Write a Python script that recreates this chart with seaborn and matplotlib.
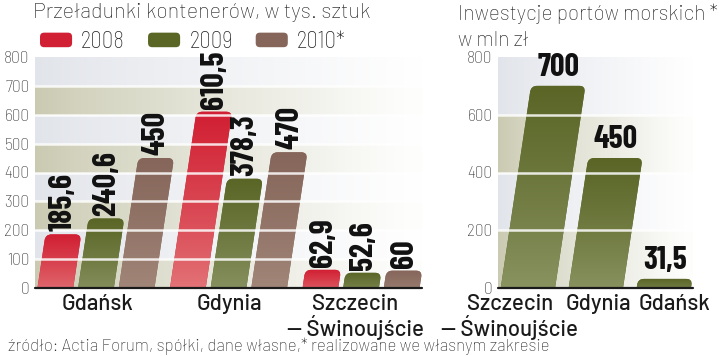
import numpy as np
import pandas as pd
import matplotlib
matplotlib.use("Agg")
import matplotlib.pyplot as plt
import seaborn as sns
from matplotlib.patches import FancyBboxPatch, Patch
from matplotlib.transforms import Affine2D, ScaledTranslation
from matplotlib.legend_handler import HandlerPatch
from matplotlib.colors import to_rgb, to_hex

# ---------------- data ----------------
ports = ["Gdańsk", "Gdynia", "Szczecin\n— Świnoujście"]
years = ["2008", "2009", "2010*"]
v2008 = [185.6, 610.5, 62.9]
v2009 = [240.6, 378.3, 52.6]
v2010 = [450, 470, 60]
left_ticks = [0, 100, 200, 300, 400, 500, 600, 700, 800]

inv_ports = ["Szczecin\n— Świnoujście", "Gdynia", "Gdańsk"]
inv_values = [700, 450, 31.5]
right_ticks = [0, 200, 400, 600, 800]

title_left = "Przeładunki kontenerów, w tys. sztuk"
title_right = "Inwestycje portów morskich *\nw mln zł"
source = "źródło: Actia Forum, spółki, dane własne,* realizowane we własnym zakresie"

# ---------------- style ----------------
top_cols = {"2008": "#d11f33", "2009": "#5a6626", "2010*": "#86665a"}
bot_cols = {"2008": "#e47a7c", "2009": "#8c9667", "2010*": "#a48a7c"}
inv_top, inv_bot = "#5a6526", "#8d9765"
GREY, KHAKI = "#e1e4ea", "#cacab2"

sns.set_style("white")
SEMI = ["Barlow Semi Condensed", "Roboto", "DejaVu Sans"]
WIDE = ["Barlow", "Roboto", "DejaVu Sans"]
NARROW = ["Barlow Condensed", "Roboto", "DejaVu Sans"]

df = pd.DataFrame({
    "port": ports * 3,
    "year": np.repeat(years, 3),
    "value": v2008 + v2009 + v2010,
})
df_inv = pd.DataFrame({"port": inv_ports, "value": inv_values})

fig = plt.figure(figsize=(7.2, 3.56), dpi=100)
fig.patch.set_facecolor("white")
axL = fig.add_axes([35 / 720, 1 - 288 / 356, 387 / 720, 231 / 356])
axR = fig.add_axes([498 / 720, 1 - 288 / 356, 195 / 720, 231 / 356])

sns.barplot(data=df, x="port", y="value", hue="year", hue_order=years,
            palette=top_cols, width=0.92, gap=0.12, saturation=1,
            legend=False, ax=axL)
sns.barplot(data=df_inv, x="port", y="value", color=inv_top, width=0.8,
            saturation=1, ax=axR)

XL = (-0.46, 2.46)
XR = (-0.44, 2.43)
axL.set_xlim(*XL)
axR.set_xlim(*XR)
for ax in (axL, axR):
    ax.set_ylim(0, 800)


def background(ax, step, nb):
    x0, x1 = ax.get_xlim()
    cols = 300
    img = np.ones((nb, cols, 4))
    t = np.linspace(0, 1, cols)
    alpha = np.clip(1 - t ** 0.85, 0.03, 1)
    for i in range(nb):
        c = GREY if (nb - 1 - i) % 2 == 0 else KHAKI
        img[i, :, :3] = to_rgb(c)
        img[i, :, 3] = alpha
    ax.imshow(img, extent=(x0, x1, 0, 800), origin="lower", aspect="auto",
              interpolation="nearest", zorder=0)
    for y in np.arange(step, 800, step):
        ax.axhline(y, color="white", lw=1.8, zorder=4, alpha=0.85)


def restyle_bars(ax, top_to_bot, label_rot, off_px):
    p0 = ax.transData.transform((0, 0))
    p1 = ax.transData.transform((1, 1))
    ppx, ppy = p1[0] - p0[0], p1[1] - p0[1]
    k = 0.15 * ppy / ppx
    aspect = ppx / ppy
    skew = Affine2D(np.array([[1, k, 0], [0, 1, 0], [0, 0, 1]]))
    r = 6 / ppx
    bars = [p for p in ax.patches]
    for p in bars:
        x, w, h = p.get_x(), p.get_width(), p.get_height()
        fc = to_hex(p.get_facecolor())
        p.remove()
        patch = FancyBboxPatch((x, -30), w, h + 30,
                               boxstyle=f"round,pad=0,rounding_size={r}",
                               mutation_aspect=aspect, facecolor=fc,
                               edgecolor="none", zorder=2,
                               transform=skew + ax.transData)
        ax.add_patch(patch)
        bot = np.array(to_rgb(top_to_bot[fc]))
        top = np.array(to_rgb(fc))
        tt = np.linspace(0, 1, 64)[:, None]
        grad = bot * (1 - tt ** 0.8) + top * tt ** 0.8
        im = ax.imshow(grad[:, None, :], extent=(x, x + w + k * h + 0.01, -30, h),
                       origin="lower", aspect="auto", interpolation="bilinear",
                       zorder=2.5)
        im.set_clip_path(patch)
        xc = x + w / 2 + k * h
        lab = f"{h:g}".replace(".", ",")
        ax.text(xc, h + off_px / ppy, lab, rotation=label_rot, ha="center",
                va="bottom", fontsize=23, fontweight="bold", family=NARROW,
                color="#111111", zorder=6)


background(axL, 100, 8)
background(axR, 200, 4)
axL.set_xlim(*XL)
axR.set_xlim(*XR)

restyle_bars(axL, {to_hex(top_cols[y]): bot_cols[y] for y in years}, 90, 3)
restyle_bars(axR, {to_hex(inv_top): inv_bot}, 0, 4)

label_shift = {axL: [2, 1, -6], axR: [-18, 3, 11]}
for ax, ticks, xl in ((axL, left_ticks, XL), (axR, right_ticks, XR)):
    ax.set_xlim(*xl)
    ax.set_ylim(0, 800)
    ax.set_yticks(ticks)
    ax.set_yticklabels([str(t) for t in ticks], fontsize=12.5, color="#333333",
                       family=SEMI, weight="light")
    ax.tick_params(axis="both", length=0)
    ax.tick_params(axis="y", pad=4)
    ax.tick_params(axis="x", pad=4)
    for lbl, dx in zip(ax.get_xticklabels(), label_shift[ax]):
        lbl.set_fontfamily(WIDE)
        lbl.set_fontweight("medium")
        lbl.set_fontsize(16)
        lbl.set_color("#1a1a1a")
        lbl.set_linespacing(1.05)
        lbl.set_transform(lbl.get_transform()
                          + ScaledTranslation(dx / 100, 0, fig.dpi_scale_trans))
    ax.set_xlabel("")
    ax.set_ylabel("")
    sns.despine(ax=ax, left=True, bottom=True)
    ax.axhline(0, color="#1a1a1a", lw=1.6, zorder=7, clip_on=False)

# titles
fig.text(33 / 720, 1 - 12 / 356, title_left, va="center", ha="left",
         fontsize=15.5, color="#222222", family=WIDE, weight="light")
fig.text(458 / 720, 1 - 27 / 356, title_right, va="center", ha="left",
         fontsize=15, color="#222222", linespacing=1.45, family=WIDE, weight="light")
fig.text(8 / 720, 1 - 346 / 356, source, va="center", ha="left",
         fontsize=12.1, color="#222222", family=WIDE, weight="light")


class RoundHandler(HandlerPatch):
    def create_artists(self, legend, orig_handle, xdescent, ydescent,
                       width, height, fontsize, trans):
        p = FancyBboxPatch((-xdescent, -ydescent), width, height,
                           boxstyle="round,pad=0,rounding_size=3",
                           facecolor=orig_handle.get_facecolor(),
                           edgecolor="none", transform=trans)
        return [p]


handles = [Patch(facecolor=top_cols[y]) for y in years]
fig.legend(handles, years, loc="center left",
           bbox_to_anchor=(40 / 720, 1 - 42 / 356), ncol=3, frameon=False,
           handlelength=1.4, handleheight=0.6, handletextpad=0.4,
           columnspacing=1.0, borderaxespad=0, borderpad=0,
           prop=dict(family=SEMI, weight="light", size=16.5),
           handler_map={Patch: RoundHandler()})

fig.savefig("out.png", dpi=100, facecolor="white")
